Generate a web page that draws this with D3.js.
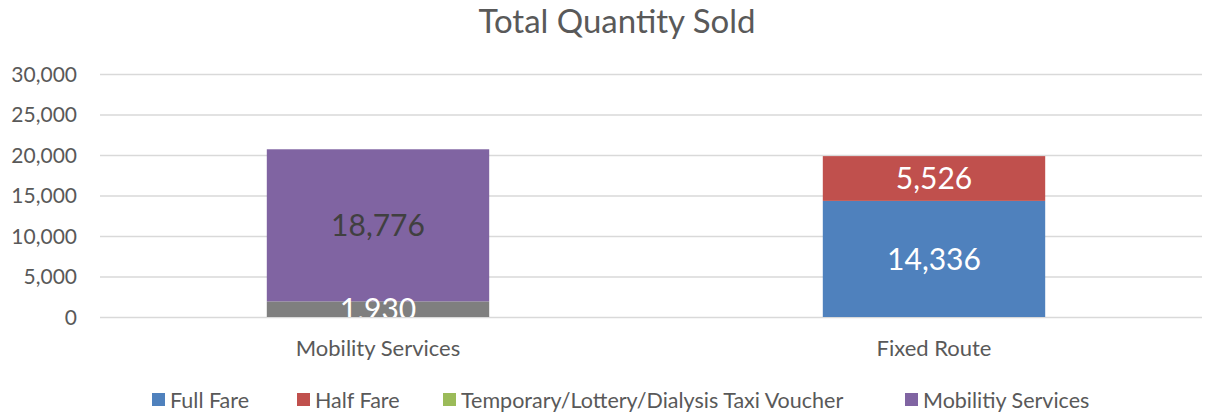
<!DOCTYPE html>
<html>
<head>
<meta charset="utf-8">
<script src="https://cdn.jsdelivr.net/npm/d3@7"></script>
<style>
  body { margin: 0; background: #fff; }
  text { font-family: Lato, "Open Sans", sans-serif; }
</style>
</head>
<body>
<svg id="chart" width="1208" height="414"></svg>
<script>
var categories = ["Mobility Services", "Fixed Route"];
var seriesNames = ["Full Fare", "Half Fare", "Temporary/Lottery/Dialysis Taxi Voucher", "Other", "Mobilitiy Services"];
var seriesColors = ["#4f81bd", "#c0504d", "#9bbb59", "#7f7f7f", "#8064a2"];
var labelColors = ["#fff", "#fff", "#fff", "#fff", "#404040"];
var inLegend = [true, true, true, false, true];
var fullFare = [0, 14336];
var halfFare = [0, 5526];
var tempVoucher = [0, 0];
var other = [1930, 0];
var mobilityServices = [18776, 0];
var yTicks = [0, 5000, 10000, 15000, 20000, 25000, 30000];

var values = [fullFare, halfFare, tempVoucher, other, mobilityServices];
var table = categories.map(function (c, i) {
  var row = { cat: c };
  seriesNames.forEach(function (s, k) { row[s] = values[k][i]; });
  return row;
});

var svg = d3.select("#chart");
var plotLeft = 100, plotRight = 1212, plotTop = 74, plotBottom = 317;

var x = d3.scaleBand().domain(categories).range([plotLeft, plotRight])
  .paddingInner(0.6).paddingOuter(0.3);
var y = d3.scaleLinear().domain([0, 30000]).range([plotBottom, plotTop]);
var fmt = d3.format(",");

svg.append("text")
  .attr("x", 617).attr("y", 33)
  .attr("text-anchor", "middle")
  .style("font-size", "33px").style("fill", "#595959")
  .text("Total Quantity Sold");

// gridlines
svg.append("g").selectAll("line").data(yTicks).enter().append("line")
  .attr("x1", plotLeft).attr("x2", 1202)
  .attr("y1", function (d) { return y(d) + 0.5; })
  .attr("y2", function (d) { return y(d) + 0.5; })
  .style("stroke", "#d9d9d9").style("stroke-width", 1.5);

// y axis labels
svg.append("g").selectAll("text").data(yTicks).enter().append("text")
  .attr("x", 77).attr("y", function (d) { return y(d); })
  .attr("dy", "0.36em").attr("text-anchor", "end")
  .style("font-size", "21px").style("fill", "#595959")
  .text(function (d) { return fmt(d); });

// category labels
svg.append("g").selectAll("text").data(categories).enter().append("text")
  .attr("x", function (d) { return x(d) + x.bandwidth() / 2; })
  .attr("y", 356).attr("text-anchor", "middle")
  .style("font-size", "22px").style("fill", "#595959")
  .text(function (d) { return d; });

var stacked = d3.stack().keys(seriesNames)(table);

svg.append("clipPath").attr("id", "plotclip")
  .append("rect").attr("x", plotLeft).attr("y", plotTop - 10)
  .attr("width", plotRight - plotLeft).attr("height", plotBottom - plotTop + 10);

var layer = svg.append("g").selectAll("g").data(stacked).enter().append("g")
  .style("fill", function (d, i) { return seriesColors[i]; });

layer.selectAll("rect").data(function (d) { return d; }).enter().append("rect")
  .filter(function (d) { return d[1] - d[0] > 0; })
  .attr("x", function (d) { return x(d.data.cat); })
  .attr("width", x.bandwidth())
  .attr("y", function (d) { return y(d[1]); })
  .attr("height", function (d) { return y(d[0]) - y(d[1]); });

var labels = svg.append("g").attr("clip-path", "url(#plotclip)");
stacked.forEach(function (s, i) {
  s.forEach(function (d) {
    if (d[1] - d[0] <= 0) return;
    labels.append("text")
      .attr("x", x(d.data.cat) + x.bandwidth() / 2)
      .attr("y", (y(d[0]) + y(d[1])) / 2)
      .attr("dy", "0.36em").attr("text-anchor", "middle")
      .style("font-size", "30px").style("fill", labelColors[i])
      .text(fmt(d[1] - d[0]));
  });
});

// legend
var legendX = [152, 297, 443, 905];
var legend = svg.append("g");
var li = 0;
seriesNames.forEach(function (s, i) {
  if (!inLegend[i]) return;
  var g = legend.append("g").attr("transform", "translate(" + legendX[li] + ",393)");
  g.append("rect").attr("width", 13).attr("height", 13).style("fill", seriesColors[i]);
  g.append("text").attr("x", 18).attr("y", 7).attr("dy", "0.36em")
    .style("font-size", "21.5px").style("fill", "#595959").text(s);
  li++;
});
</script>
</body>
</html>
